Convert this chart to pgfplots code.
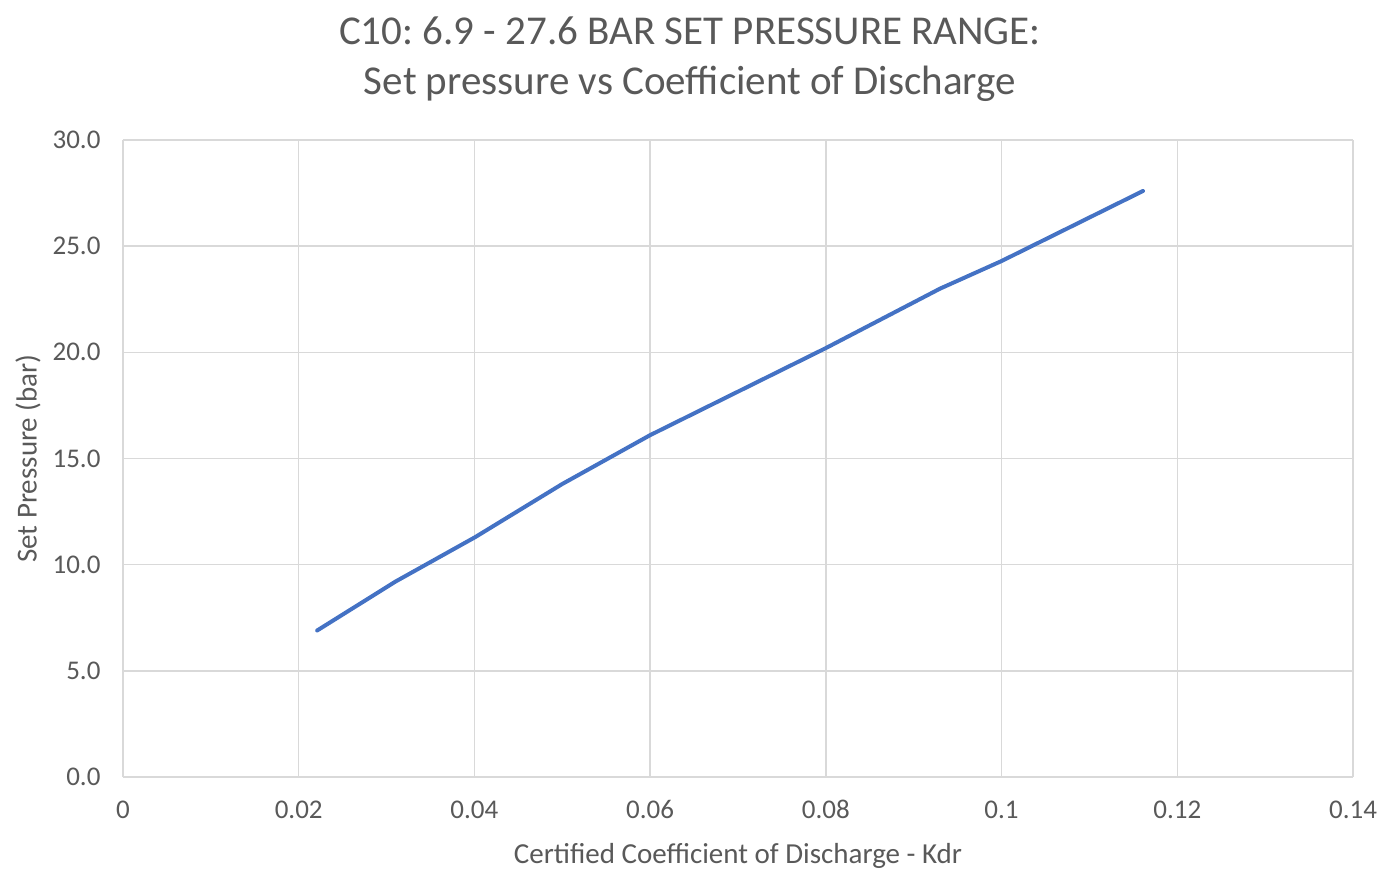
\documentclass[border=0pt]{standalone}
\usepackage{fontspec}
\setmainfont{Carlito}
\usepackage{pgfplots}
\pgfplotsset{compat=1.18}
\definecolor{txtgray}{HTML}{595959}
\definecolor{gridgray}{HTML}{D9D9D9}
\definecolor{lineblue}{HTML}{4472C4}
\frenchspacing

\begin{document}
\begin{tikzpicture}[x=1pt,y=1pt]
% page frame 1379 x 881, origin at lower-left of plot area
\path[use as bounding box] (-123,-104) rectangle (1256,777);
\begin{axis}[
    at={(0,0)}, anchor=south west,
    scale only axis, width=1230pt, height=637pt,
    xmin=0, xmax=0.14, ymin=0, ymax=30,
    xtick={0,0.02,...,0.14},
    xticklabels={0,0.02,0.04,0.06,0.08,0.1,0.12,0.14},
    ytick={0,5,...,30},
    yticklabel={\pgfmathprintnumber[fixed,fixed zerofill,precision=1]{\tick}},
    /pgf/number format/assume math mode=true,
    grid=major, grid style={gridgray, line width=1.4pt},
    axis line style={gridgray, line width=1.4pt},
    axis x line*=bottom, axis y line*=left,
    major tick length=0pt,
    ticklabel style={font=\fontsize{27}{30}\selectfont, text=txtgray},
    xticklabel style={yshift=-20pt},
    yticklabel style={xshift=-19pt},
    xlabel={Certified Coefficient of Discharge - Kdr},
    ylabel={Set Pressure (bar)},
    label style={font=\fontsize{29}{32}\selectfont, text=txtgray},
    xlabel style={yshift=-17pt},
    ylabel style={yshift=5pt},
    title={C10: 6.9 - 27.6 BAR SET PRESSURE RANGE:\\Set pressure vs Coefficient of Discharge},
    title style={font=\fontsize{41}{50}\selectfont, text=txtgray, align=center, yshift=29pt, xshift=-48pt},
]
\addplot[color=lineblue, line width=4pt, line cap=round, line join=round] coordinates {
    (0.0221, 6.9) (0.0310, 9.2) (0.0401, 11.3) (0.0500, 13.8) (0.0600, 16.1)
    (0.0800, 20.2) (0.0930, 23.0) (0.1000, 24.3) (0.1161, 27.6)
};
\end{axis}
\end{tikzpicture}
\end{document}
